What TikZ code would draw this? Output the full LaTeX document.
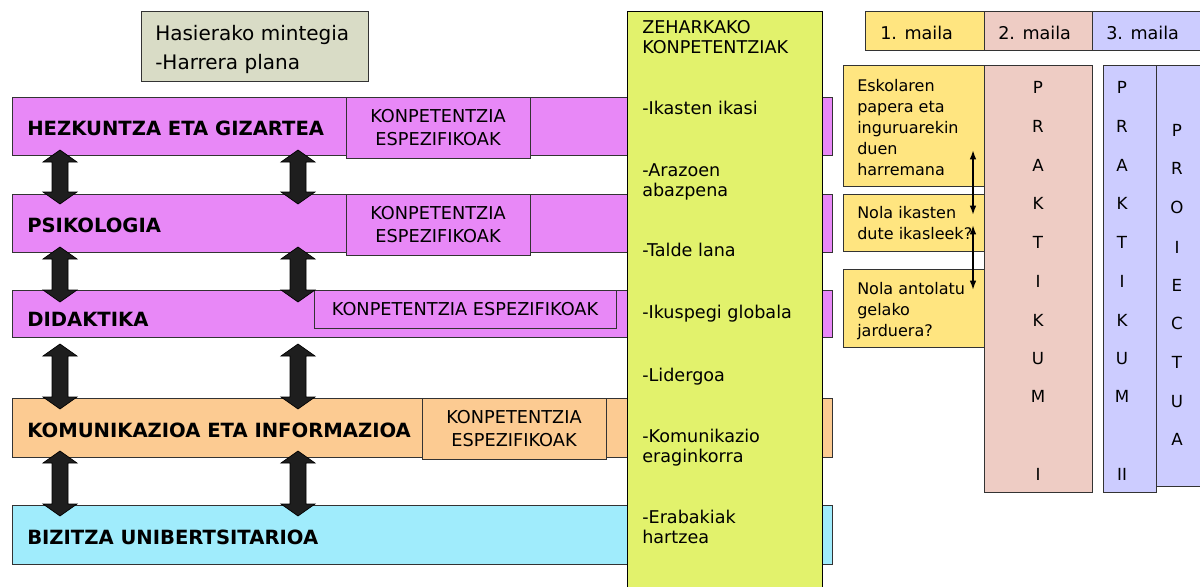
\documentclass[tikz,border=0pt]{standalone}
\usepackage{fontspec}
\setmainfont{DejaVu Sans}
\usetikzlibrary{fit,arrows.meta}
\definecolor{sage}{HTML}{D9DCC6}
\definecolor{violetb}{HTML}{E888F7}
\definecolor{orangeb}{HTML}{FCCB92}
\definecolor{cyanb}{HTML}{A0ECFC}
\definecolor{limeb}{HTML}{E2F26C}
\definecolor{yellowb}{HTML}{FFE580}
\definecolor{pinkb}{HTML}{EECCC4}
\definecolor{lavb}{HTML}{CCCCFF}
\definecolor{arrowfill}{HTML}{1E1E1E}
\newcommand{\blockarrow}[3]{%
  \filldraw[fill=arrowfill, draw=black, line width=0.5pt]
    (#1,#2) -- ({#1+17},{#2+12}) -- ({#1+8},{#2+12}) -- ({#1+8},{#3-12})
    -- ({#1+17},{#3-12}) -- (#1,#3) -- ({#1-17},{#3-12}) -- ({#1-8},{#3-12})
    -- ({#1-8},{#2+12}) -- ({#1-17},{#2+12}) -- cycle;}
\begin{document}
\begin{tikzpicture}[x=0.75pt,y=-0.75pt,
  box/.style={draw=black!80, line width=0.7pt, inner sep=0pt},
  txt/.style={inner sep=0pt, anchor=base west, align=left, font=\fontsize{13.2}{14.4}\selectfont},
  ytxt/.style={inner sep=0pt, anchor=base west, align=left, font=\fontsize{12}{15.75}\selectfont},
  bandlbl/.style={inner sep=0pt, anchor=base west, font=\fontsize{14.7}{16}\selectfont\bfseries},
  konp/.style={inner sep=0pt, align=center, font=\fontsize{13.3}{17}\selectfont},
  letter/.style={inner sep=0pt, anchor=base, font=\fontsize{12.5}{14}\selectfont},
  thinarrow/.style={{Latex[length=7pt,width=5pt]}-{Latex[length=7pt,width=5pt]}, line width=1.3pt}]
\useasboundingbox (0,0) rectangle (1200,586);
\fill[white] (0,0) rectangle (1200,586);

% top-left box
\node[box, fill=sage, fit={(141,11)(368,81)}] (has) {};
\node[inner sep=0pt, anchor=base west, align=left, font=\fontsize{15}{21.75}\selectfont] (hastxt) at (155,69) {Hasierako mintegia\\-Harrera plana};

% bands
\node[box, fill=violetb, fit={(12,97)(832,155)}] (hez) {};
\node[box, fill=violetb, fit={(12,194)(832,252)}] (psi) {};
\node[box, fill=violetb, fit={(12,290)(832,337)}] (did) {};
\node[box, fill=orangeb, fit={(12,398)(832,457)}] (kom) {};
\node[box, fill=cyanb, fit={(12,505)(832,564)}] (biz) {};

\node[bandlbl] (hezl) at (27,135) {HEZKUNTZA ETA GIZARTEA};
\node[bandlbl] (psil) at (27,232) {PSIKOLOGIA};
\node[bandlbl] (didl) at (27,326) {DIDAKTIKA};
\node[bandlbl] (koml) at (27,437) {KOMUNIKAZIOA ETA INFORMAZIOA};
\node[bandlbl] (bizl) at (27,544) {BIZITZA UNIBERTSITARIOA};

% konpetentzia espezifikoak boxes
\node[box, fill=violetb, fit={(346,97)(530,158)}] (k1) {};
\node[konp] (k1t) at (k1.center) {KONPETENTZIA\\ESPEZIFIKOAK};
\node[box, fill=violetb, fit={(346,194)(530,255)}] (k2) {};
\node[konp] (k2t) at (k2.center) {KONPETENTZIA\\ESPEZIFIKOAK};
\node[box, fill=violetb, fit={(314,290)(616,328)}] (k3) {};
\node[konp] (k3t) at (k3.center) {KONPETENTZIA ESPEZIFIKOAK};
\node[box, fill=orangeb, fit={(422,398)(606,459)}] (k4) {};
\node[konp] (k4t) at (k4.center) {KONPETENTZIA\\ESPEZIFIKOAK};

% zeharkako column
\node[box, draw=black, fill=limeb, fit={(627,11)(822,590)}] (zeh) {};
\node[txt] (z0) at (642,53) {ZEHARKAKO\\KONPETENTZIAK};
\node[txt] (z1) at (642,114) {-Ikasten ikasi};
\node[txt] (z2) at (642,196) {-Arazoen\\abazpena};
\node[txt] (z3) at (642,256) {-Talde lana};
\node[txt] (z4) at (642,318) {-Ikuspegi globala};
\node[txt] (z5) at (642,381) {-Lidergoa};
\node[txt] (z6) at (642,462) {-Komunikazio\\eraginkorra};
\node[txt] (z7) at (642,543) {-Erabakiak\\hartzea};

% block arrows
\blockarrow{60}{150}{204}
\blockarrow{298}{150}{204}
\blockarrow{60}{247}{302}
\blockarrow{298}{247}{302}
\blockarrow{60}{344}{409}
\blockarrow{298}{344}{409}
\blockarrow{60}{451}{516}
\blockarrow{298}{451}{516}

% header
\node[box, fill=yellowb, fit={(865,11)(984,50)}] (m1) {};
\node[box, fill=pinkb, fit={(984,11)(1092,50)}] (m2) {};
\node[box, fill=lavb, fit={(1092,11)(1204,50)}] (m3) {};
\node[txt] (m1t) at (880,39) {1. maila};
\node[txt] (m2t) at (998,39) {2. maila};
\node[txt] (m3t) at (1106,39) {3. maila};

% yellow question boxes
\node[box, fill=yellowb, fit={(843,65)(984,186)}] (q1) {};
\node[box, fill=yellowb, fit={(843,194)(984,251)}] (q2) {};
\node[box, fill=yellowb, fit={(843,269)(984,347)}] (q3) {};
\node[ytxt] (q1t) at (857,175) {Eskolaren\\papera eta\\inguruarekin\\duen\\harremana};
\node[ytxt] (q2t) at (857,239) {Nola ikasten\\dute ikasleek?};
\node[ytxt] (q3t) at (857,336) {Nola antolatu\\gelako\\jarduera?};

% columns
\node[box, fill=pinkb, fit={(984,65)(1092,492)}] (p1) {};
\node[box, fill=lavb, fit={(1103,65)(1156,492)}] (p2) {};
\node[box, fill=lavb, fit={(1156,65)(1204,486)}] (pr) {};
\foreach \l/\y [count=\i] in {P/87,R/126,A/165,K/203,T/242,I/281,K/320,U/358,M/396,I/474}
  \node[letter] (pa\i) at (1038,\y+6) {\l};
\foreach \l/\y [count=\i] in {P/87,R/126,A/165,K/203,T/242,I/281,K/320,U/358,M/396,II/474}
  \node[letter] (pb\i) at (1122,\y+6) {\l};
\foreach \l/\y [count=\i] in {P/130,R/168,O/207,I/247,E/285,C/323,T/362,U/401,A/439}
  \node[letter] (pc\i) at (1177,\y+6) {\l};

% thin arrows
\coordinate (a1s) at (973,150);
\coordinate (a1e) at (973,215);
\coordinate (a2s) at (973,225);
\coordinate (a2e) at (973,290);
\draw[thinarrow] (a1s) -- (a1e);
\draw[thinarrow] (a2s) -- (a2e);
\end{tikzpicture}
\end{document}
